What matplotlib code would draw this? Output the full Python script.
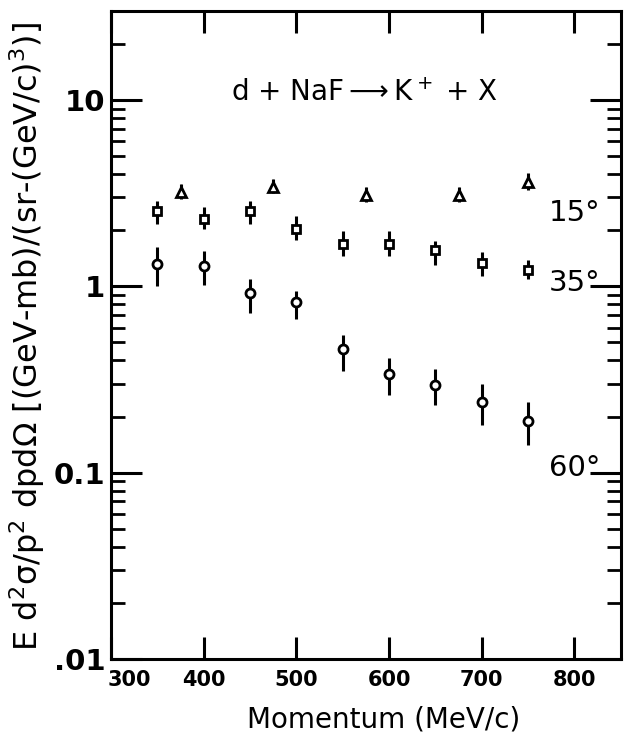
import numpy as np
import matplotlib
matplotlib.use("Agg")
import matplotlib.pyplot as plt
from matplotlib.ticker import LogLocator, NullFormatter
from matplotlib.transforms import ScaledTranslation

# 15 deg (triangles)
p15 = [375, 475, 575, 675, 750]
y15 = [3.22, 3.43, 3.10, 3.10, 3.64]
y15_lo = [2.95, 3.15, 2.85, 2.85, 3.30]
y15_hi = [3.55, 3.75, 3.40, 3.40, 4.05]

# 35 deg (squares)
p35 = [350, 400, 450, 500, 550, 600, 650, 700, 750]
y35 = [2.55, 2.31, 2.55, 2.04, 1.68, 1.68, 1.56, 1.33, 1.23]
y35_lo = [2.17, 2.02, 2.17, 1.78, 1.45, 1.45, 1.30, 1.13, 1.09]
y35_hi = [2.88, 2.65, 2.88, 2.37, 1.97, 1.97, 1.74, 1.52, 1.39]

# 60 deg (circles)
p60 = [350, 400, 450, 500, 550, 600, 650, 700, 750]
y60 = [1.31, 1.28, 0.92, 0.82, 0.46, 0.339, 0.296, 0.24, 0.19]
y60_lo = [1.00, 1.02, 0.72, 0.67, 0.35, 0.26, 0.23, 0.18, 0.14]
y60_hi = [1.62, 1.54, 1.10, 0.94, 0.55, 0.41, 0.36, 0.30, 0.24]

xticks = [300, 400, 500, 600, 700, 800]
yticks = [0.01, 0.1, 1, 10]
ytick_labels = [".01", "0.1", "1", "10"]

plt.rcParams['font.family'] = ['DejaVu Sans']

fig = plt.figure(figsize=(6.29, 7.42), dpi=100)
ax = fig.add_axes([0.1765, 0.112, 0.8105, 0.873])


def errs(y, lo, hi):
    y = np.array(y)
    return [y - np.array(lo), np.array(hi) - y]


style = dict(color='black', mfc='white', mec='black', mew=2.0,
             elinewidth=2.2, capsize=0, ls='none')
ax.errorbar(p15, y15, yerr=errs(y15, y15_lo, y15_hi), marker='^', ms=7, **style)
ax.errorbar(p35, y35, yerr=errs(y35, y35_lo, y35_hi), marker='s', ms=6, **style)
ax.errorbar(p60, y60, yerr=errs(y60, y60_lo, y60_hi), marker='o', ms=6.5, **style)

ax.set_yscale('log')
ax.set_xlim(300, 850)
ax.set_ylim(0.01, 30)

ax.set_xticks(xticks)
ax.set_xticklabels([str(t) for t in xticks])
ax.set_yticks(yticks)
ax.set_yticklabels(ytick_labels)
ax.yaxis.set_minor_locator(LogLocator(base=10, subs=np.arange(2, 10), numticks=20))
ax.yaxis.set_minor_formatter(NullFormatter())

for s in ax.spines.values():
    s.set_linewidth(2.2)

ax.tick_params(axis='both', which='major', direction='in', top=True, right=True,
               width=2.2, length=16)
ax.tick_params(axis='y', which='major', length=22, labelsize=21, pad=4)
ax.tick_params(axis='y', which='minor', direction='in', right=True,
               width=2.0, length=10)
ax.tick_params(axis='x', which='major', labelsize=15, pad=8)
for lab in ax.get_xticklabels() + ax.get_yticklabels():
    lab.set_fontweight('bold')
# first x label sits right of its tick, as in the original
first = ax.get_xticklabels()[0]
first.set_transform(first.get_transform() + ScaledTranslation(0.18, 0, fig.dpi_scale_trans))

ax.set_xlabel("Momentum (MeV/c)", fontsize=20)
ax.xaxis.set_label_coords(0.535, -0.072)
ax.set_ylabel(r"E d$^2$σ/p$^2$ dpdΩ [(GeV-mb)/(sr-(GeV/c)$^3$)]",
              fontsize=23)
ax.yaxis.set_label_coords(-0.125, 0.498)

ax.text(0.498, 0.873, r"d + NaF$\longrightarrow$K$^+$ + X", transform=ax.transAxes,
        fontsize=20, ha='center', va='center')
ax.text(0.96, 0.688, "15°", transform=ax.transAxes, fontsize=21,
        ha='right', va='center')
ax.text(0.96, 0.58, "35°", transform=ax.transAxes, fontsize=21,
        ha='right', va='center')
ax.text(0.96, 0.295, "60°", transform=ax.transAxes, fontsize=21,
        ha='right', va='center')

fig.savefig("out.png", dpi=100)
